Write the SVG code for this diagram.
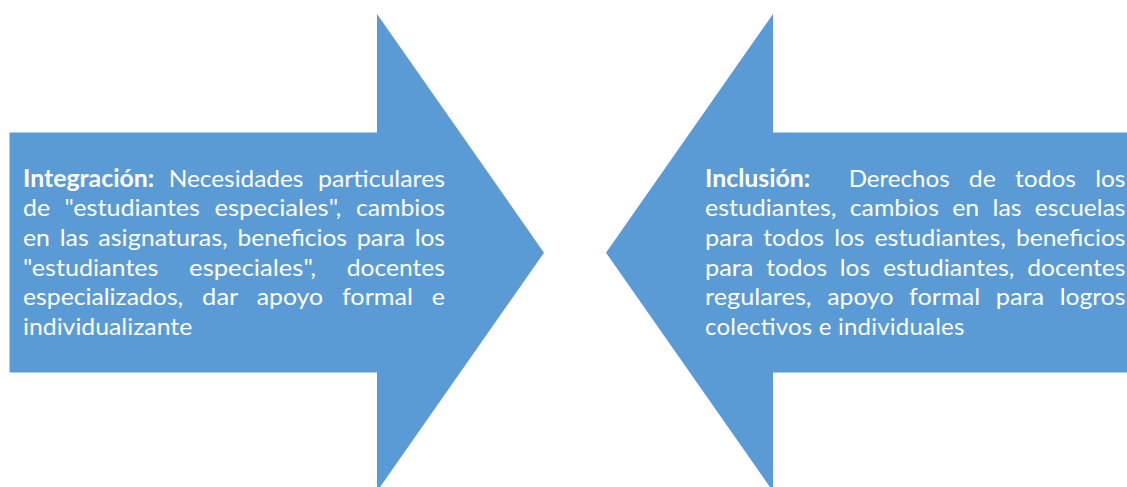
<svg xmlns="http://www.w3.org/2000/svg" width="1127" height="487" viewBox="0 0 1127 487">
<style>
.arrow{fill:#5b9bd5;stroke:none}
.t{font-family:Lato,"Liberation Sans",sans-serif;font-size:24px;fill:#ffffff}
.b{font-weight:700}
</style>
<rect width="1127" height="487" fill="#ffffff"/>
<g id="integracion">
<polygon class="arrow" points="9.5,132.5 377,132.5 377,14 544,252.7 377,491.4 377,372.5 9.5,372.5"/>
<text class="t" y="186.8"><tspan class="b" x="23" textLength="131.15" lengthAdjust="spacingAndGlyphs">Integración:</tspan> <tspan x="168.7" textLength="134.66" lengthAdjust="spacingAndGlyphs">Necesidades</tspan> <tspan x="318" textLength="127.03" lengthAdjust="spacingAndGlyphs">particulares</tspan></text>
<text class="t" y="216.4"><tspan x="23" textLength="27.01" lengthAdjust="spacingAndGlyphs">de</tspan> <tspan x="64.5" textLength="135.51" lengthAdjust="spacingAndGlyphs">"estudiantes</tspan> <tspan x="214.4" textLength="127.03" lengthAdjust="spacingAndGlyphs">especiales",</tspan> <tspan x="355.9" textLength="89.08" lengthAdjust="spacingAndGlyphs">cambios</tspan></text>
<text class="t" y="246"><tspan x="23" textLength="27.01" lengthAdjust="spacingAndGlyphs">en</tspan> <tspan x="59.65" textLength="29.03" lengthAdjust="spacingAndGlyphs">las</tspan> <tspan x="98.33" textLength="129.45" lengthAdjust="spacingAndGlyphs">asignaturas,</tspan> <tspan x="237.43" textLength="109.6" lengthAdjust="spacingAndGlyphs">beneficios</tspan> <tspan x="356.68" textLength="48.37" lengthAdjust="spacingAndGlyphs">para</tspan> <tspan x="414.69" textLength="30.31" lengthAdjust="spacingAndGlyphs">los</tspan></text>
<text class="t" y="275.6"><tspan x="23" textLength="135.51" lengthAdjust="spacingAndGlyphs">"estudiantes</tspan> <tspan x="189.11" textLength="127.03" lengthAdjust="spacingAndGlyphs">especiales",</tspan> <tspan x="346.73" textLength="98.27" lengthAdjust="spacingAndGlyphs">docentes</tspan></text>
<text class="t" y="305.2"><tspan x="23" textLength="160.24" lengthAdjust="spacingAndGlyphs">especializados,</tspan> <tspan x="202.14" textLength="35.72" lengthAdjust="spacingAndGlyphs">dar</tspan> <tspan x="256.77" textLength="66.31" lengthAdjust="spacingAndGlyphs">apoyo</tspan> <tspan x="341.98" textLength="70.98" lengthAdjust="spacingAndGlyphs">formal</tspan> <tspan x="431.87" textLength="13.14" lengthAdjust="spacingAndGlyphs">e</tspan></text>
<text class="t" y="334.8"><tspan x="23" textLength="169.22" lengthAdjust="spacingAndGlyphs">individualizante</tspan></text>
</g>
<g id="inclusion">
<polygon class="arrow" points="1127,132.5 773,132.5 773,14 606,252.7 773,491.4 773,372.5 1127,372.5"/>
<text class="t" y="186.8"><tspan class="b" x="705" textLength="105.22" lengthAdjust="spacingAndGlyphs">Inclusión:</tspan> <tspan x="848.65" textLength="101" lengthAdjust="spacingAndGlyphs">Derechos</tspan> <tspan x="968.87" textLength="27.01" lengthAdjust="spacingAndGlyphs">de</tspan> <tspan x="1015.1" textLength="60.88" lengthAdjust="spacingAndGlyphs">todos</tspan> <tspan x="1095.2" textLength="30.31" lengthAdjust="spacingAndGlyphs">los</tspan></text>
<text class="t" y="216.4"><tspan x="705" textLength="131.51" lengthAdjust="spacingAndGlyphs">estudiantes,</tspan> <tspan x="849.81" textLength="89.08" lengthAdjust="spacingAndGlyphs">cambios</tspan> <tspan x="952.19" textLength="27.01" lengthAdjust="spacingAndGlyphs">en</tspan> <tspan x="992.5" textLength="29.03" lengthAdjust="spacingAndGlyphs">las</tspan> <tspan x="1034.83" textLength="90.66" lengthAdjust="spacingAndGlyphs">escuelas</tspan></text>
<text class="t" y="246"><tspan x="705" textLength="48.37" lengthAdjust="spacingAndGlyphs">para</tspan> <tspan x="763.33" textLength="60.88" lengthAdjust="spacingAndGlyphs">todos</tspan> <tspan x="834.17" textLength="30.31" lengthAdjust="spacingAndGlyphs">los</tspan> <tspan x="874.44" textLength="131.51" lengthAdjust="spacingAndGlyphs">estudiantes,</tspan> <tspan x="1015.91" textLength="109.6" lengthAdjust="spacingAndGlyphs">beneficios</tspan></text>
<text class="t" y="275.6"><tspan x="705" textLength="48.37" lengthAdjust="spacingAndGlyphs">para</tspan> <tspan x="766.16" textLength="60.88" lengthAdjust="spacingAndGlyphs">todos</tspan> <tspan x="839.83" textLength="30.31" lengthAdjust="spacingAndGlyphs">los</tspan> <tspan x="882.93" textLength="131.51" lengthAdjust="spacingAndGlyphs">estudiantes,</tspan> <tspan x="1027.23" textLength="98.27" lengthAdjust="spacingAndGlyphs">docentes</tspan></text>
<text class="t" y="305.2"><tspan x="705" textLength="106.6" lengthAdjust="spacingAndGlyphs">regulares,</tspan> <tspan x="827.2" textLength="66.31" lengthAdjust="spacingAndGlyphs">apoyo</tspan> <tspan x="909.11" textLength="70.98" lengthAdjust="spacingAndGlyphs">formal</tspan> <tspan x="995.69" textLength="48.37" lengthAdjust="spacingAndGlyphs">para</tspan> <tspan x="1059.66" textLength="65.86" lengthAdjust="spacingAndGlyphs">logros</tspan></text>
<text class="t" y="334.8"><tspan x="705" textLength="259.32" lengthAdjust="spacing">colectivos e individuales</tspan></text>
</g>
</svg>
